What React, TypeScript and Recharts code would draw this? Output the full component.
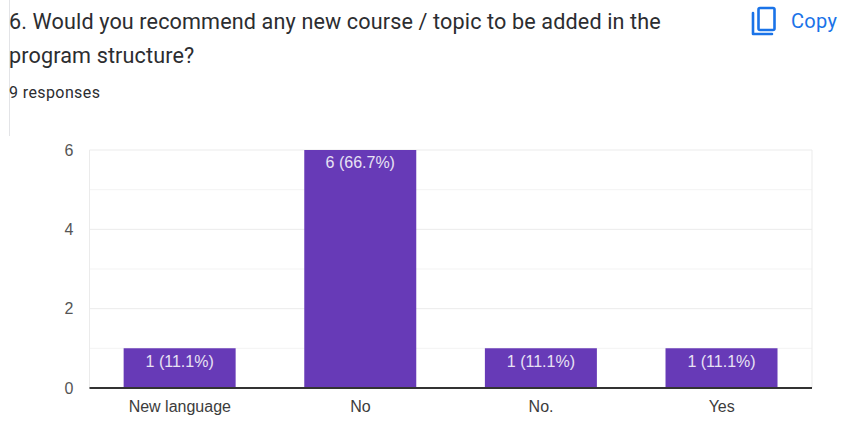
import React from "react";
import { BarChart, Bar, XAxis, YAxis, CartesianGrid, LabelList } from "recharts";

const categories = ["New language", "No", "No.", "Yes"];
const counts = [1, 6, 1, 1];
const percents = ["11.1%", "66.7%", "11.1%", "11.1%"];
const yTicks = [0, 2, 4, 6];
const majorLines = [0, 2, 4, 6];
const minorLines = [1, 3, 5];
const titleLines = ["6. Would you recommend any new course / topic to be added in the", "program structure?"];
const subtitle = "9 responses";
const copyLabel = "Copy";

const rows = categories.map((name, i) => ({ name, count: counts[i], label: `${counts[i]} (${percents[i]})` }));
const roboto = "Roboto, sans-serif";
const arial = "'Liberation Sans', Arial, sans-serif";

export default function App() {
  return (
    <div style={{ position: "absolute", left: 0, top: 0, width: 846, height: 443, background: "#fff", overflow: "hidden" }}>
      <div style={{ position: "absolute", left: 9, top: -10, width: 20, height: 145, borderLeft: "1px solid #e3e4e7", borderTopLeftRadius: 8, borderTop: "1px solid #e3e4e7", borderTopColor: "transparent" }} />
      <div style={{ position: "absolute", left: 9, top: 5, fontFamily: roboto, fontSize: 21.6, lineHeight: "34px", letterSpacing: 0.13, color: "#2c2d30", whiteSpace: "pre" }}>
        {titleLines.map((t) => <div key={t}>{t}</div>)}
      </div>
      <div style={{ position: "absolute", left: 9, top: 83, fontFamily: roboto, fontSize: 16, lineHeight: "20px", letterSpacing: 0.4, color: "#2c2d30" }}>{subtitle}</div>
      <svg style={{ position: "absolute", left: 749, top: 4 }} width="32" height="32" viewBox="0 0 32 32">
        <path d="M4 9 V30 H23" fill="none" stroke="#1a73e8" strokeWidth="2.6" strokeLinejoin="round" strokeLinecap="round" />
        <rect x="9.5" y="4" width="16" height="22" rx="1.5" fill="none" stroke="#1a73e8" strokeWidth="2.6" />
      </svg>
      <div style={{ position: "absolute", left: 791, top: 9, fontFamily: roboto, fontSize: 20, lineHeight: "24px", fontWeight: 400, letterSpacing: 0.3, color: "#1a73e8" }}>{copyLabel}</div>
      <div style={{ position: "absolute", left: 0, top: 0 }}>
        <BarChart width={846} height={443} data={rows} margin={{ top: 150, right: 34, bottom: 0, left: 0 }} barCategoryGap="18.9%">
          <CartesianGrid horizontal={true} vertical={false} horizontalValues={minorLines} stroke="#f3f3f3" strokeWidth={1} />
          <CartesianGrid
            horizontal={true}
            vertical={true}
            horizontalValues={majorLines}
            verticalCoordinatesGenerator={({ offset }: any) => [offset.left, offset.left + offset.width]}
            stroke="#ebebeb"
            strokeWidth={1}
          />
          <XAxis
            dataKey="name"
            height={55}
            tickLine={false}
            axisLine={{ stroke: "#333333", strokeWidth: 2 }}
            tick={{ fontFamily: arial, fontSize: 16, fill: "#3c3c3c" }}
            tickMargin={7}
          />
          <YAxis
            type="number"
            domain={[0, 6]}
            ticks={yTicks}
            width={89.5}
            tickLine={false}
            axisLine={false}
            tick={{ fontFamily: arial, fontSize: 16, fill: "#555555" }}
            tickMargin={10}
          />
          <Bar dataKey="count" fill="#673ab7" isAnimationActive={false}>
            <LabelList dataKey="label" position="insideTop" offset={7} fill="#e8e2f4" style={{ fontFamily: arial, fontSize: 16 }} />
          </Bar>
        </BarChart>
      </div>
    </div>
  );
}
